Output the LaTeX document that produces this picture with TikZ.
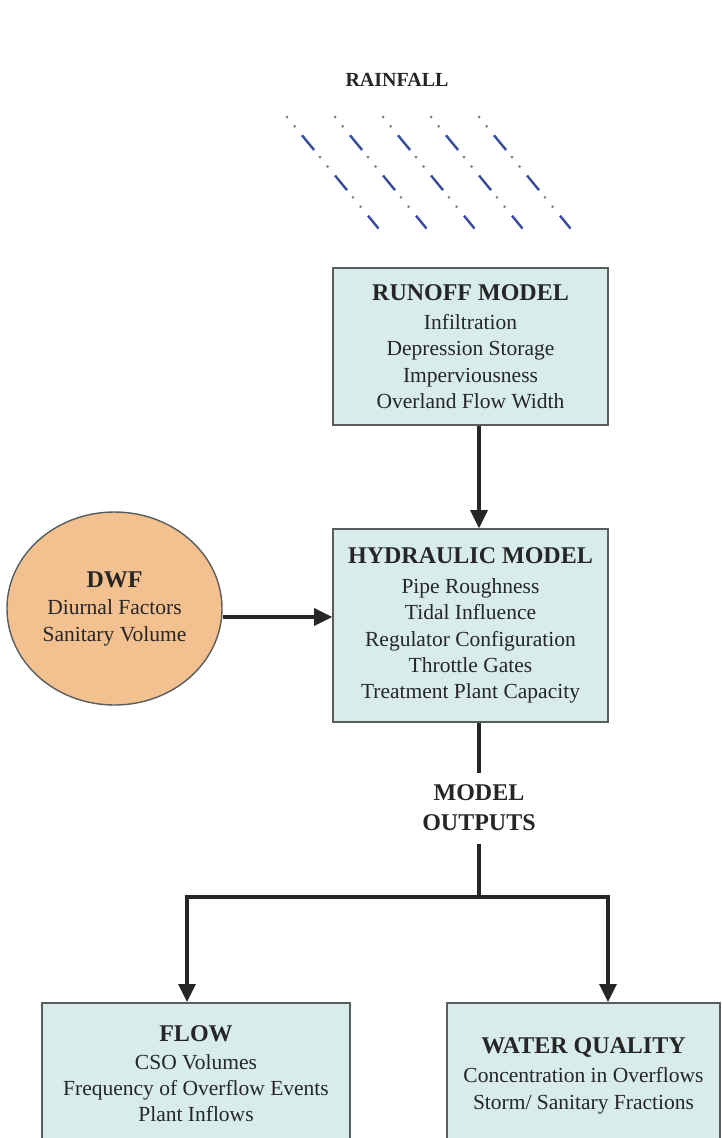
\documentclass[tikz,border=0pt]{standalone}
\usepackage{fontspec}
\setmainfont{Liberation Serif}
\usetikzlibrary{arrows.meta,shapes.geometric}
\definecolor{boxfill}{HTML}{D8ECEB}
\definecolor{boxline}{HTML}{585E5E}
\definecolor{dwffill}{HTML}{F3C08F}
\definecolor{inkc}{HTML}{262626}
\definecolor{rainblue}{HTML}{3A4C9E}
\definecolor{raingray}{HTML}{7A808C}
\tikzset{
  modelbox/.style={draw=boxline, line width=1.6pt, fill=boxfill, rectangle, align=center,
    text=inkc, inner sep=0pt, font=\fontsize{21.5}{26.3}\selectfont},
  dwfshape/.style={draw=boxline, line width=1.4pt, fill=dwffill, ellipse, align=center,
    text=inkc, inner sep=0pt, font=\fontsize{21.5}{27}\selectfont},
  conn/.style={draw=inkc, line width=3.1pt},
  arr/.style={conn, -{Triangle[length=18pt,width=17pt]}},
  raindash/.style={draw=rainblue, line width=2.4pt, dash pattern=on 19pt off 33pt, dash phase=28.3pt},
  raindot/.style={draw=raingray, line width=3pt, line cap=round, dash pattern=on 0pt off 12pt on 0pt off 40pt},
  heading/.style={font=\fontsize{24}{30}\selectfont\bfseries}
}
\newcommand{\ttl}[1]{{\fontsize{24}{26.3}\selectfont\bfseries #1}}
\begin{document}
\begin{tikzpicture}[x=1pt,y=-1pt]
\clip (0,0) rectangle (722,1138);
\fill[white] (0,0) rectangle (722,1138);

% rainfall
\node[text=inkc, font=\fontsize{20}{24}\selectfont\bfseries] (rain) at (397,80) {RAINFALL};
\foreach \k in {0,1,2,3,4}{
  \coordinate (rs\k) at ({287+48*\k},117);
  \coordinate (re\k) at ({378.5+48*\k},228.5);
  \draw[raindot] (rs\k) -- (re\k);
  \draw[raindash] (rs\k) -- (re\k);
}

% boxes
\node[modelbox, minimum width=275pt, minimum height=157pt] (runoff) at (470.5,346.5)
  {\ttl{RUNOFF MODEL}\\[3pt] Infiltration\\ Depression Storage\\ Imperviousness\\ Overland Flow Width};
\node[modelbox, minimum width=275pt, minimum height=193pt] (hydraulic) at (470.5,625.5)
  {\ttl{HYDRAULIC MODEL}\\[3.5pt] Pipe Roughness\\ Tidal Influence\\ Regulator Configuration\\ Throttle Gates\\ Treatment Plant Capacity};
\node[dwfshape, minimum width=215pt, minimum height=193pt] (dwf) at (114.5,608.5)
  {\ttl{DWF}\\ Diurnal Factors\\ Sanitary Volume};
\node[modelbox, minimum width=308pt, minimum height=142pt, anchor=north] (flow) at (196,1002)
  {\ttl{FLOW}\\[1.5pt] CSO Volumes\\ Frequency of Overflow Events\\ Plant Inflows};
\node[modelbox, minimum width=273pt, minimum height=146pt, anchor=north] (wq) at (583.5,1002)
  {\ttl{WATER QUALITY}\\[3pt] Concentration in Overflows\\ Storm/ Sanitary Fractions};

% model outputs label
\node[heading, text=inkc, align=center, inner sep=0pt] (out) at (479,808) {MODEL\\OUTPUTS};

% connectors
\coordinate (ax) at (479,0);
\coordinate (junc) at (479,897);
\coordinate (lft) at (187,897);
\coordinate (rgt) at (608,897);
\draw[arr] (runoff.south -| ax) -- (hydraulic.north -| ax);
\draw[arr] ([yshift=-8.5pt]dwf.east) -- ([yshift=-8.5pt]dwf.east -| hydraulic.west);
\draw[conn] (hydraulic.south -| ax) -- (479,773);
\draw[conn] (479,844) -- (junc);
\draw[conn, line cap=rect] (lft) -- (rgt);
\draw[arr] (lft) -- (flow.north -| lft);
\draw[arr] (rgt) -- (wq.north -| rgt);
\end{tikzpicture}
\end{document}
